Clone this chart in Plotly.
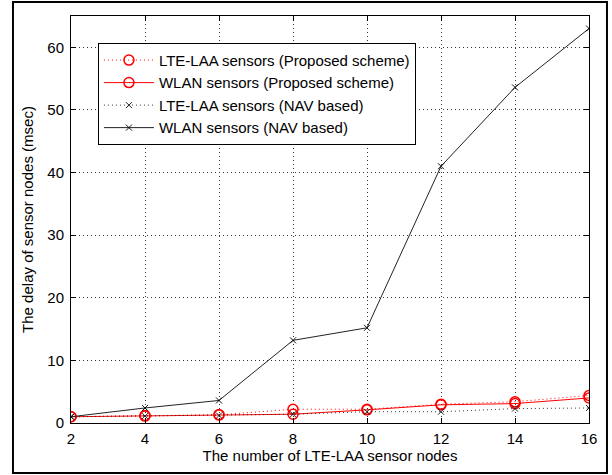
import plotly.graph_objects as go

nodes = [2, 4, 6, 8, 10, 12, 14, 16]
lte_proposed = [1.0, 1.2, 1.3, 2.2, 2.2, 3.0, 3.4, 4.4]
wlan_proposed = [1.0, 1.1, 1.3, 1.4, 2.1, 2.9, 3.1, 4.0]
lte_nav = [1.0, 1.1, 1.2, 1.4, 1.8, 1.8, 2.3, 2.4]
wlan_nav = [1.0, 2.4, 3.6, 13.2, 15.2, 41.0, 53.6, 63.0]

names = [
    "LTE-LAA sensors (Proposed scheme)",
    "WLAN sensors (Proposed scheme)",
    "LTE-LAA sensors (NAV based)",
    "WLAN sensors (NAV based)",
]
x_ticks = [2, 4, 6, 8, 10, 12, 14, 16]
y_ticks = [0, 10, 20, 30, 40, 50, 60]

FONT = "Liberation Sans, Arial, sans-serif"
DOT = "1px,3px"

fig = go.Figure()
fig.add_trace(go.Scatter(
    x=nodes, y=lte_proposed, name=names[0], mode="lines+markers",
    line=dict(color="#ff0000", width=1, dash=DOT),
    marker=dict(symbol="circle-open", size=10, color="#ff0000", line=dict(width=1.5))))
fig.add_trace(go.Scatter(
    x=nodes, y=wlan_proposed, name=names[1], mode="lines+markers",
    line=dict(color="#ff0000", width=1),
    marker=dict(symbol="circle-open", size=10, color="#ff0000", line=dict(width=1.5))))
fig.add_trace(go.Scatter(
    x=nodes, y=lte_nav, name=names[2], mode="lines+markers",
    line=dict(color="#333333", width=1, dash=DOT),
    marker=dict(symbol="x-thin-open", size=6, color="#222222", line=dict(width=1))))
fig.add_trace(go.Scatter(
    x=nodes, y=wlan_nav, name=names[3], mode="lines+markers",
    line=dict(color="#222222", width=1),
    marker=dict(symbol="x-thin-open", size=6, color="#111111", line=dict(width=1))))

axis_common = dict(
    showline=True, linecolor="#000000", linewidth=1, mirror="ticks",
    ticks="inside", ticklen=5, tickcolor="#000000",
    showgrid=True, gridcolor="#333333", gridwidth=1, griddash=DOT,
    zeroline=False, tickfont=dict(family=FONT, size=15, color="#000000"),
)

fig.update_xaxes(range=[2, 16], tickvals=x_ticks, ticklabelstandoff=2, **axis_common,
                 title=dict(text="The number of LTE-LAA sensor nodes",
                            font=dict(family=FONT, size=15, color="#000000"), standoff=2))
fig.update_yaxes(range=[0, 65], tickvals=y_ticks, ticklabelstandoff=3, **axis_common,
                 title=dict(text="The delay of sensor nodes (msec)",
                            font=dict(family=FONT, size=15, color="#000000"), standoff=10))

fig.add_shape(type="rect", xref="paper", yref="paper",
              x0=-0.112, x1=1.0347, y0=-0.1229, y1=1.0344,
              line=dict(color="#000000", width=2), layer="above")

fig.update_layout(
    width=612, height=475,
    margin=dict(l=71, r=23, t=16, b=52, autoexpand=False),
    paper_bgcolor="#ffffff", plot_bgcolor="#ffffff",
    font=dict(family=FONT, size=15, color="#000000"),
    legend=dict(x=0.052, y=0.934, xanchor="left", yanchor="top",
                bgcolor="#ffffff", bordercolor="#000000", borderwidth=1,
                font=dict(family=FONT, size=15, color="#000000"),
                itemwidth=50),
    showlegend=True,
)

fig.write_html("out.html", config={"displayModeBar": False},
               post_script="document.body.style.margin='0';")
